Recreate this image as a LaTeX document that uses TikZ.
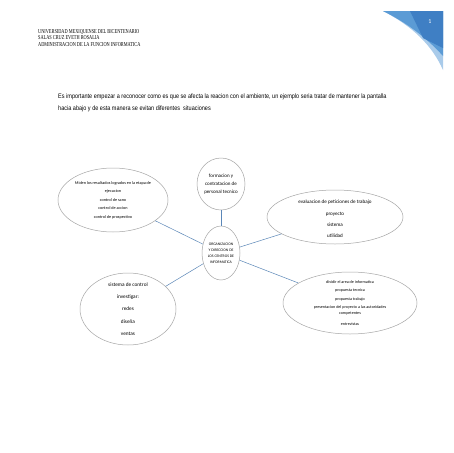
\documentclass[tikz,border=0pt]{standalone}
\usepackage{fontspec}
\setmainfont{Carlito}
\newfontfamily\headfont[FakeStretch=0.72]{Liberation Serif}
\newfontfamily\bodyfont[FakeStretch=0.85]{Liberation Sans}
\usetikzlibrary{shapes.geometric}
\definecolor{conector}{HTML}{5B87B8}
\definecolor{borde}{HTML}{A6A6A6}
\definecolor{azul}{HTML}{5B9BD5}
\definecolor{azulclaro}{HTML}{A9CBEA}
\definecolor{azuloscuro}{HTML}{3F7FC4}
\tikzset{
  burbuja/.style={ellipse,draw=borde,line width=0.5pt,inner sep=0pt},
  enlace/.style={draw=conector,line width=0.5pt}
}

\begin{document}
\begin{tikzpicture}[x=1pt,y=-1pt]
    \fill[white] (0,0) rectangle (453,453);
    \useasboundingbox (0,0) rectangle (453,453);
    % esquina de la pagina
    \fill[azulclaro] (383,11) -- (443,11) -- (443,70) .. controls (432,45) and (412,26) .. (383,11);
    \fill[azul] (383,11) -- (443,11) -- (443,56) .. controls (425,36) and (405,22) .. (383,11);
    \fill[azuloscuro] (410,11) -- (443,11) -- (443,48) -- (423,38) -- cycle;
    \node[text=white,font=\fontsize{6}{6}\selectfont,inner sep=0pt] (pagina) at (430,22) {1};
    % encabezado y texto
    \node[anchor=north west,align=left,inner sep=0pt,font=\headfont\fontsize{6}{6.5}\selectfont] (encabezado) at (38,29)
       {UNIVERSIDAD MEXIQUENSE DEL BICENTENARIO\\SALAS CRUZ EVETH ROSALIA\\ADMINISTRACION DE LA FUNCION INFORMATICA};
    \node[anchor=north west,align=left,inner sep=0pt,font=\bodyfont\fontsize{6.5}{12}\selectfont] (parrafo) at (58,94)
       {Es importante empezar a reconocer como es que se afecta la reacion con el ambiente, un ejemplo seria tratar de mantener la pantalla\\hacia abajo y de esta manera se evitan diferentes\ \ situaciones};
    % mapa
    \node[burbuja,minimum width=38pt,minimum height=54pt,
       label={[align=center,font=\fontsize{3.8}{6}\selectfont]center:{ORGANIZACION\\Y DIRECCION DE\\LOS CENTROS DE\\INFORMATICA}}] (centro) at (221,253) {};
    \node[burbuja,minimum width=48pt,minimum height=52pt,
       label={[align=center,font=\fontsize{5}{8}\selectfont]center:{formacion y\\contratacion de\\personal tecnico}}] (personal) at (221,184) {};
    \node[burbuja,minimum width=110pt,minimum height=64pt,
       label={[align=center,font=\fontsize{4.2}{8.5}\selectfont]center:{Miden los resultados logrados en la etapa de\\ejecucion\\control de sano\\control de accion\\control de prospectivo}}] (resultados) at (113,200) {};
    \node[burbuja,minimum width=136pt,minimum height=54pt,
       label={[align=center,yshift=-2pt,font=\fontsize{5.1}{11.3}\selectfont]center:{evaluacion de peticiones de trabajo\\proyecto\\sistema\\utilidad}}] (evaluacion) at (335,217) {};
    \node[burbuja,minimum width=134pt,minimum height=62pt,
       label={[align=center,font=\fontsize{4.1}{8.5}\selectfont]center:{dividir el area de informatica\\propuesta tecnica\\propuesta trabajo\\presentacion del proyecto a las autoridades\\[-2.5pt]competentes\\[2.5pt]entrevistas}}] (division) at (350,303) {};
    \node[burbuja,minimum width=96pt,minimum height=72pt,
       label={[align=center,font=\fontsize{5.3}{12.2}\selectfont]center:{sistema de control\\investigar:\\redes\\diseña\\ventas}}] (sistema) at (128,309) {};
    \draw[enlace] (centro) -- (personal);
    \draw[enlace] (centro) -- (resultados);
    \draw[enlace] (centro) -- (evaluacion);
    \draw[enlace] (centro) -- (division);
    \draw[enlace] (centro) -- (sistema);
\end{tikzpicture}
\end{document}
